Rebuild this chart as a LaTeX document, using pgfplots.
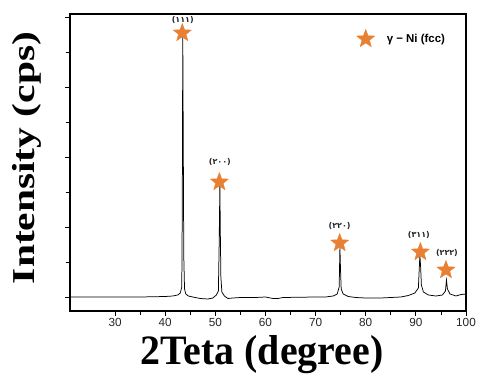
\documentclass[border=0pt]{standalone}
\usepackage{fontspec}
\setmainfont{Liberation Serif}
\setsansfont{Liberation Sans}
\newfontfamily\persfont{DejaVu Sans}
\usepackage{pgfplots}
\pgfplotsset{compat=1.18}
\definecolor{starorange}{RGB}{232,128,52}
\pgfdeclareplotmark{fstar}{%
  \pgfpathmoveto{\pgfpointpolar{90}{\pgfplotmarksize}}%
  \pgfpathlineto{\pgfpointpolar{126}{0.42\pgfplotmarksize}}%
  \pgfpathlineto{\pgfpointpolar{162}{\pgfplotmarksize}}%
  \pgfpathlineto{\pgfpointpolar{198}{0.42\pgfplotmarksize}}%
  \pgfpathlineto{\pgfpointpolar{234}{\pgfplotmarksize}}%
  \pgfpathlineto{\pgfpointpolar{270}{0.42\pgfplotmarksize}}%
  \pgfpathlineto{\pgfpointpolar{306}{\pgfplotmarksize}}%
  \pgfpathlineto{\pgfpointpolar{342}{0.42\pgfplotmarksize}}%
  \pgfpathlineto{\pgfpointpolar{18}{\pgfplotmarksize}}%
  \pgfpathlineto{\pgfpointpolar{54}{0.42\pgfplotmarksize}}%
  \pgfpathclose
  \pgfusepathqfillstroke}
\begin{document}
\begin{tikzpicture}
\begin{axis}[
  scale only axis, width=396bp, height=297bp,
  xmin=21, xmax=100, ymin=-14, ymax=283,
  clip=false,
  xtick={30,40,...,100}, minor x tick num=1,
  ytick={0,70,140,210,280}, minor ytick={35,105,175,245},
  yticklabels={},
  tick pos=left, tick align=outside,
  major tick length=5bp, minor tick length=4bp,
  axis line style={line width=1.3pt},
  every tick/.style={black, line width=0.8pt},
  ticklabel style={font=\fontsize{11.8}{12}\sffamily\selectfont, text=black!85, inner sep=2pt},
  /pgf/number format/assume math mode=true,
  xlabel={\scalebox{1}[1.05]{2Teta (degree)}},
  xlabel style={at={(axis description cs:0.485,0)}, anchor=base, yshift=-53bp, inner sep=0pt,
    font=\fontsize{40}{40}\bfseries\selectfont},
  ylabel={\scalebox{1.3}[1]{Intensity (cps)}},
  ylabel style={at={(axis description cs:-0.1086,0.515)}, anchor=center, inner sep=0pt,
    font=\fontsize{32}{32}\bfseries\selectfont},
  legend style={draw=none, fill=none, at={(0.7235,0.919)}, anchor=west,
    inner sep=0pt, nodes={inner sep=0pt},
    font=\fontsize{11.5}{12}\sffamily\bfseries\selectfont,
    /tikz/every odd column/.append style={column sep=12bp}},
  legend image code/.code={\draw[#1] plot coordinates {(0pt,0pt)};},
]
\addplot[black, line width=0.75pt, no marks, forget plot] coordinates {
(21,0) (25,0) (30,0) (35,0) (38,0.3) (40,0.5) (41.5,1) (42.5,2) (43.0,4) (43.3,10)
(43.4,90) (43.5,262) (43.6,150) (43.7,40) (43.85,8) (44.1,3) (44.6,1) (45.5,0)
(47,-1.5) (48.5,-2) (49.5,-1) (50.2,2) (50.6,6) (50.75,50) (50.9,112) (51.0,60)
(51.1,20) (51.3,5) (51.8,1) (52.5,-1.5) (53.5,-1) (55,-0.5) (58,-0.5) (60,0)
(61.5,-1.5) (62.5,-1.5) (63.5,-0.5) (66,-0.3) (70,0) (72,0) (73.5,1) (74.3,3)
(74.7,10) (74.85,50) (74.95,30) (75.1,8) (75.5,3) (76.5,0.5) (78,-0.5) (80,-1)
(83,-1) (85,-0.5) (87,0) (88.5,1.5) (89.8,4) (90.5,9) (90.8,42) (90.95,30)
(91.1,12) (91.5,5) (92.5,2) (94,1) (95.3,2) (95.9,6) (96.1,17) (96.3,8)
(96.8,3) (98,1) (99,2.5) (100,3)
};
\addplot[only marks, mark=fstar, mark size=9.5bp, color=starorange]
  coordinates {(43.4,264) (50.8,115) (74.8,54) (90.9,45) (96.0,27)};
\addlegendentry{γ − Ni (fcc)}
\begin{scope}[every node/.style={font=\persfont\bfseries\fontsize{8}{9}\selectfont, text=black!85}]
\node at (axis cs:43.5,277) {(۱۱۱)};
\node at (axis cs:50.9,135) {(۲۰۰)};
\node at (axis cs:74.8,71) {(۲۲۰)};
\node at (axis cs:90.6,62) {(۳۱۱)};
\node at (axis cs:96.2,44) {(۲۲۲)};
\end{scope}
\end{axis}
\pgfresetboundingbox
\path[use as bounding box] (-70bp,-63bp) rectangle (408bp,311bp);
\end{tikzpicture}
\end{document}
